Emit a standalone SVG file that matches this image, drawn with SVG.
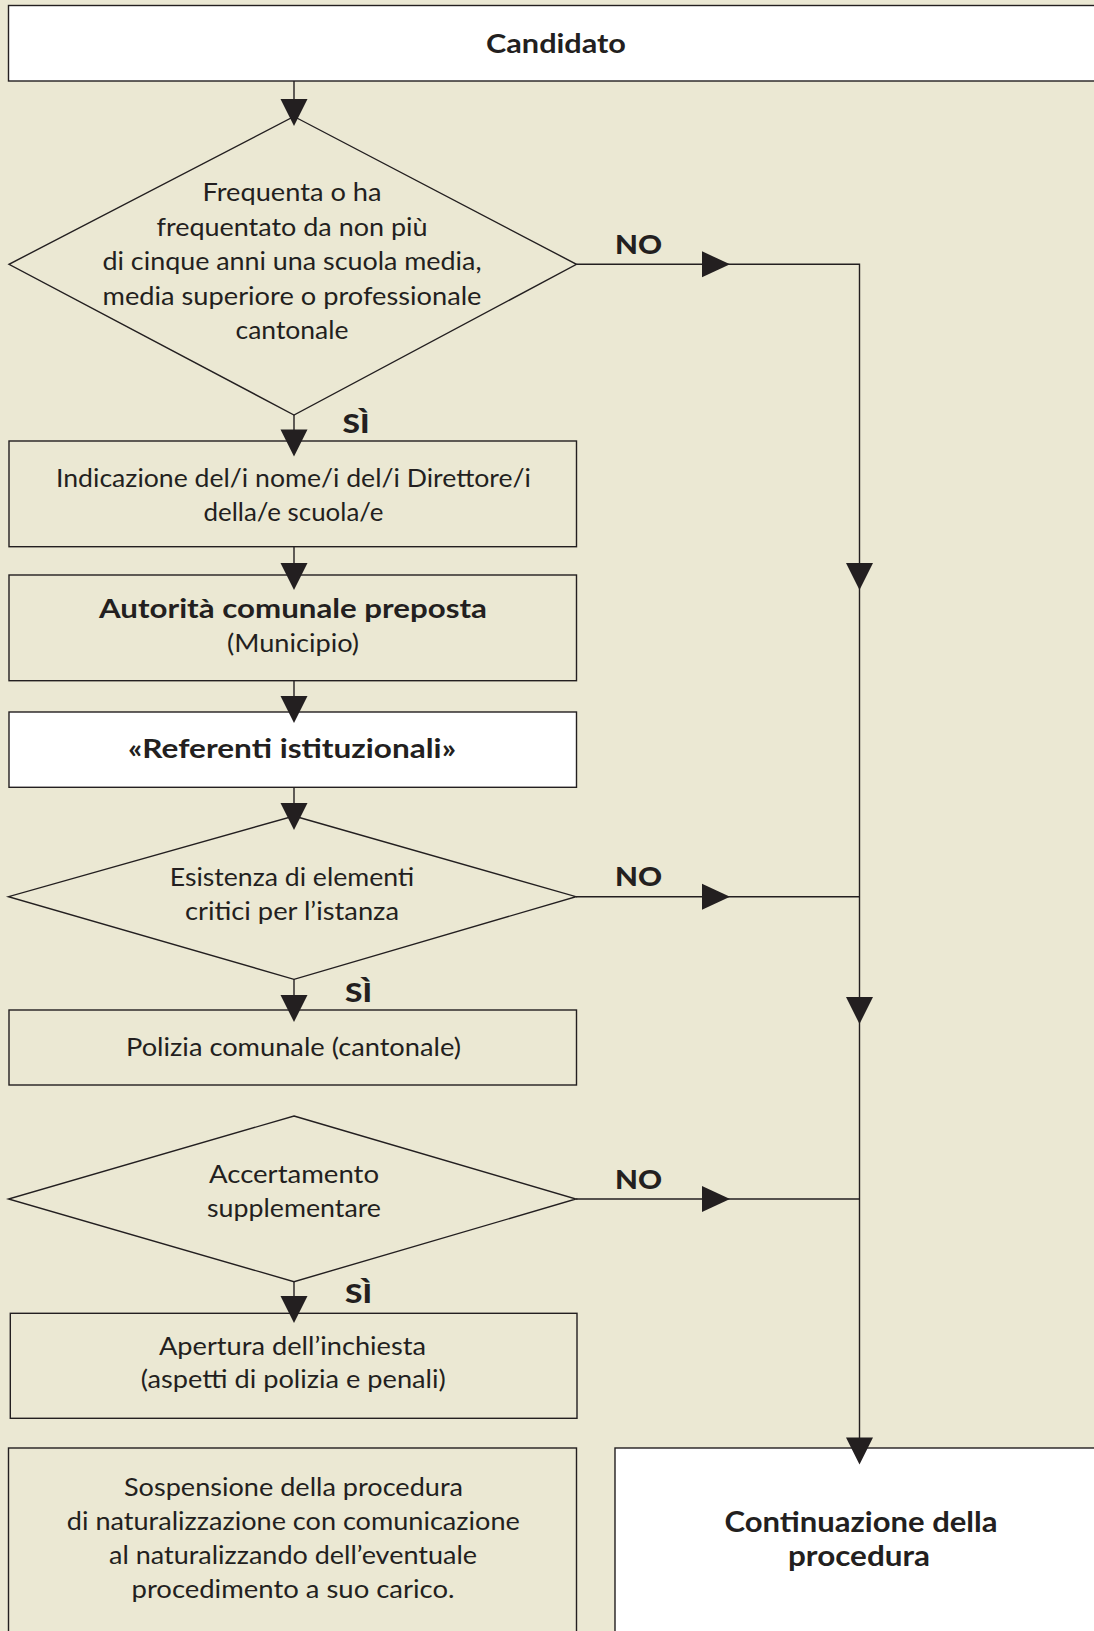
<svg xmlns="http://www.w3.org/2000/svg" xmlns:xlink="http://www.w3.org/1999/xlink" width="1094" height="1631" viewBox="0 0 1094 1631">
<style>
.bx{fill:#EBE8D3;stroke:#231F20;stroke-width:1.4}
.wh{fill:#FFFFFF;stroke:#231F20;stroke-width:1.4}
.ln{fill:none;stroke:#231F20;stroke-width:1.4}
.ah{fill:#231F20;stroke:none}
text{font-family:Lato,"Open Sans","DejaVu Sans",sans-serif;font-size:25.5px;fill:#231F20;text-anchor:middle}
.b{font-weight:700;font-size:27px}
.lbl{font-family:Lato,"DejaVu Sans",sans-serif;font-weight:900;font-size:27px}
</style>
<defs>
<path id="ahd" d="M-13.5,0 L13.5,0 L0,27 Z"/>
<path id="ahr" d="M0,-13 L28,0 L0,13 Z"/>
</defs>
<rect x="0" y="0" width="1094" height="1631" fill="#EBE8D3"/>

<g id="candidato">
<rect class="wh" x="8.5" y="5.5" width="1100" height="75.5"/>
<text class="b" x="556" y="53.3" textLength="140" lengthAdjust="spacingAndGlyphs">Candidato</text>
</g>

<g id="decisione-scuola">
<polygon class="bx" points="294,116.5 576.5,264.3 294,415 9,264.3"/>
<text x="292" y="201" textLength="179" lengthAdjust="spacingAndGlyphs">Frequenta o ha</text>
<text x="292" y="235.5" textLength="271" lengthAdjust="spacingAndGlyphs">frequentato da non più</text>
<text x="292" y="270" textLength="379" lengthAdjust="spacingAndGlyphs">di cinque anni una scuola media,</text>
<text x="292" y="304.5" textLength="379" lengthAdjust="spacingAndGlyphs">media superiore o professionale</text>
<text x="292" y="339" textLength="113" lengthAdjust="spacingAndGlyphs">cantonale</text>
</g>

<g id="indicazione">
<rect class="bx" x="9" y="441" width="567.5" height="105.7"/>
<text x="293.5" y="486.7" textLength="475" lengthAdjust="spacingAndGlyphs">Indicazione del/i nome/i del/i Direttore/i</text>
<text x="293.5" y="520.7" textLength="180" lengthAdjust="spacingAndGlyphs">della/e scuola/e</text>
</g>

<g id="autorita">
<rect class="bx" x="9" y="575" width="567.5" height="105.7"/>
<text class="b" x="293" y="618.3" textLength="388" lengthAdjust="spacingAndGlyphs">Autorità comunale preposta</text>
<text x="293" y="652" textLength="132" lengthAdjust="spacingAndGlyphs">(Municipio)</text>
</g>

<g id="referenti">
<rect class="wh" x="9" y="712" width="567.5" height="75.3"/>
<text class="b" x="292" y="758.3" textLength="328" lengthAdjust="spacingAndGlyphs">«Referenti istituzionali»</text>
</g>

<g id="decisione-elementi">
<polygon class="bx" points="294,816 576,896.7 294,979.3 8.5,896.7"/>
<text x="292" y="886" textLength="244.5" lengthAdjust="spacingAndGlyphs">Esistenza di elementi</text>
<text x="292" y="920" textLength="214" lengthAdjust="spacingAndGlyphs">critici per l’istanza</text>
</g>

<g id="polizia">
<rect class="bx" x="9" y="1010" width="567.5" height="75"/>
<text x="293.5" y="1056" textLength="335" lengthAdjust="spacingAndGlyphs">Polizia comunale (cantonale)</text>
</g>

<g id="decisione-accertamento">
<polygon class="bx" points="294,1116 576,1199 294,1281.7 8.5,1199"/>
<text x="294" y="1183.3" textLength="170" lengthAdjust="spacingAndGlyphs">Accertamento</text>
<text x="294" y="1217.3" textLength="174" lengthAdjust="spacingAndGlyphs">supplementare</text>
</g>

<g id="apertura">
<rect class="bx" x="10.3" y="1313.3" width="566.7" height="105"/>
<text x="292.5" y="1355" textLength="267" lengthAdjust="spacingAndGlyphs">Apertura dell’inchiesta</text>
<text x="293.3" y="1388.3" textLength="305" lengthAdjust="spacingAndGlyphs">(aspetti di polizia e penali)</text>
</g>

<g id="sospensione">
<rect class="bx" x="8.5" y="1448" width="568" height="200"/>
<text x="293.5" y="1496" textLength="339" lengthAdjust="spacingAndGlyphs">Sospensione della procedura</text>
<text x="293.3" y="1530" textLength="453" lengthAdjust="spacingAndGlyphs">di naturalizzazione con comunicazione</text>
<text x="293" y="1564" textLength="368" lengthAdjust="spacingAndGlyphs">al naturalizzando dell’eventuale</text>
<text x="293" y="1597.5" textLength="323" lengthAdjust="spacingAndGlyphs">procedimento a suo carico.</text>
</g>

<g id="continuazione">
<rect class="wh" x="615" y="1448" width="500" height="200"/>
<text class="b" x="861" y="1531.5" style="font-size:28px" textLength="273" lengthAdjust="spacingAndGlyphs">Continuazione della</text>
<text class="b" x="859" y="1566" style="font-size:28px" textLength="142" lengthAdjust="spacingAndGlyphs">procedura</text>
</g>

<g id="connectors">
<line class="ln" x1="294" y1="81" x2="294" y2="110"/>
<use href="#ahd" class="ah" x="294" y="99"/>
<line class="ln" x1="294" y1="415" x2="294" y2="440"/>
<use href="#ahd" class="ah" x="294" y="429.5"/>
<line class="ln" x1="294" y1="547" x2="294" y2="575"/>
<use href="#ahd" class="ah" x="294" y="563"/>
<line class="ln" x1="294" y1="681" x2="294" y2="710"/>
<use href="#ahd" class="ah" x="294" y="696"/>
<line class="ln" x1="294" y1="787" x2="294" y2="815"/>
<use href="#ahd" class="ah" x="294" y="803"/>
<line class="ln" x1="294" y1="979" x2="294" y2="1008"/>
<use href="#ahd" class="ah" x="294" y="995"/>
<line class="ln" x1="294" y1="1282" x2="294" y2="1310"/>
<use href="#ahd" class="ah" x="294" y="1296"/>

<polyline class="ln" points="576.5,264.3 859.5,264.3 859.5,1450"/>
<use href="#ahr" class="ah" x="702" y="264.3"/>
<line class="ln" x1="576" y1="896.7" x2="859.5" y2="896.7"/>
<use href="#ahr" class="ah" x="702" y="896.7"/>
<line class="ln" x1="576" y1="1199" x2="859.5" y2="1199"/>
<use href="#ahr" class="ah" x="702" y="1199"/>
<use href="#ahd" class="ah" x="859.5" y="563"/>
<use href="#ahd" class="ah" x="859.5" y="997"/>
<use href="#ahd" class="ah" x="859.5" y="1437.5"/>

<text class="lbl" x="638.5" y="254" textLength="47" lengthAdjust="spacingAndGlyphs">NO</text>
<text class="lbl" x="638.5" y="886" textLength="47" lengthAdjust="spacingAndGlyphs">NO</text>
<text class="lbl" x="638.5" y="1188.5" textLength="47" lengthAdjust="spacingAndGlyphs">NO</text>
<text class="lbl" x="356" y="432.5" textLength="27" lengthAdjust="spacingAndGlyphs">SÌ</text>
<text class="lbl" x="358.5" y="1001.5" textLength="27" lengthAdjust="spacingAndGlyphs">SÌ</text>
<text class="lbl" x="358.5" y="1303" textLength="27" lengthAdjust="spacingAndGlyphs">SÌ</text>
</g>
</svg>
